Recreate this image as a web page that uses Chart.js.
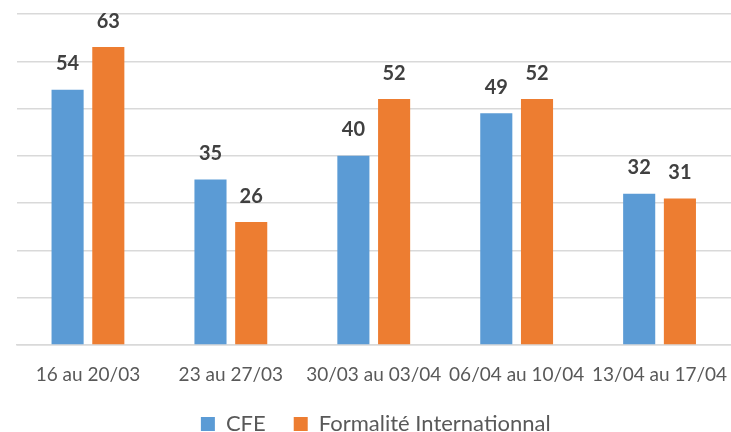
<!DOCTYPE html>
<html>
<head>
<meta charset="utf-8">
<script src="https://cdn.jsdelivr.net/npm/chart.js@4"></script>
<style>
  html, body { margin: 0; padding: 0; background: #fff; }
  #wrap { width: 731px; height: 432px; }
</style>
</head>
<body>
<div id="wrap"><canvas id="myChart" width="731" height="432"></canvas></div>
<script>
// categories (semaines)
const semaines = ['16 au 20/03', '23 au 27/03', '30/03 au 03/04', '06/04 au 10/04', '13/04 au 17/04'];
// series
const valeursCFE = [54, 35, 40, 49, 32];
const valeursFormalite = [63, 26, 52, 52, 31];

// petites étiquettes au-dessus des barres (pas de plugin datalabels dispo)
const etiquettesValeurs = {
    id: 'etiquettesValeurs',
    afterDatasetsDraw(chart) {
        const c = chart.ctx;
        c.save();
        c.font = 'bold 20px Lato';
        c.fillStyle = '#404040';
        c.textAlign = 'center';
        c.textBaseline = 'middle';
        chart.data.datasets.forEach((ds, i) => {
            chart.getDatasetMeta(i).data.forEach((bar, j) => {
                c.fillText(ds.data[j], bar.x, bar.y - 26);
            });
        });
        c.restore();
    }
};

const ctx = document.getElementById('myChart').getContext('2d');
const myChart = new Chart(ctx, {
    type: 'bar',
    data: {
        labels: semaines,
        datasets: [{
            label: 'CFE',
            data: valeursCFE,
            backgroundColor: '#5B9BD5',
            categoryPercentage: 0.57,
            barPercentage: 0.788
        }, {
            label: 'Formalité Internationnal',
            data: valeursFormalite,
            backgroundColor: '#ED7D31',
            categoryPercentage: 0.57,
            barPercentage: 0.788
        }]
    },
    options: {
        responsive: false,
        animation: false,
        layout: { padding: { left: 16.5, right: -4, top: 14, bottom: -13 } },
        plugins: {
            tooltip: { enabled: false },
            legend: {
                position: 'bottom',
                labels: {
                    font: { family: 'Lato', size: 22 },
                    color: '#595959',
                    boxWidth: 14,
                    boxHeight: 14,
                    padding: 28
                }
            }
        },
        scales: {
            x: {
                grid: { display: false, drawTicks: false },
                border: { color: '#D9D9D9', width: 1.5 },
                ticks: {
                    font: { family: 'Lato', size: 19, lineHeight: 1 },
                    color: '#595959',
                    padding: 20,
                    maxRotation: 0,
                    autoSkip: false
                },
                afterFit(scale) {
                    // dans l'original le graphique déborde un peu à droite
                    scale.paddingLeft = 0;
                    scale.paddingRight = -4;
                    scale.height = scale.height - 19;
                }
            },
            y: {
                min: 0,
                max: 70,
                ticks: { stepSize: 10, display: false },
                grid: { color: '#D9D9D9', lineWidth: 1.5, drawTicks: false },
                border: { display: false }
            }
        }
    },
    plugins: [etiquettesValeurs]
});
</script>
</body>
</html>
